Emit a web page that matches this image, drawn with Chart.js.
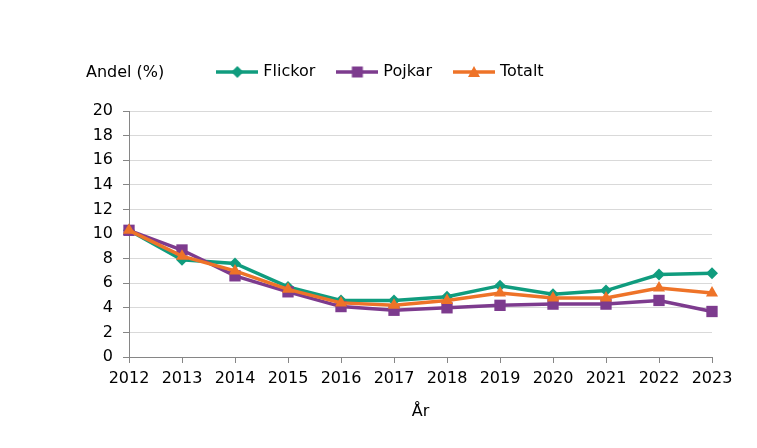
<!DOCTYPE html>
<html><head><meta charset="utf-8">
<script src="https://cdn.jsdelivr.net/npm/chart.js@4/dist/chart.umd.min.js"></script>
<style>html,body{margin:0;padding:0;background:#fff}#wrap{width:757px;height:448px}</style>
</head><body><div id="wrap"><canvas id="c" width="757" height="448"></canvas></div>
<script>
const years = ['2012','2013','2014','2015','2016','2017','2018','2019','2020','2021','2022','2023'];
const flickor = [10.3, 7.9, 7.6, 5.7, 4.6, 4.6, 4.9, 5.8, 5.1, 5.4, 6.7, 6.8];
const pojkar  = [10.3, 8.7, 6.6, 5.3, 4.1, 3.8, 4.0, 4.2, 4.3, 4.3, 4.6, 3.7];
const totalt  = [10.3, 8.2, 7.0, 5.5, 4.4, 4.2, 4.6, 5.2, 4.8, 4.8, 5.6, 5.2];
const seriesNames = ['Flickor', 'Pojkar', 'Totalt'];
const yAxisLabel = 'Andel (%)';
const xAxisLabel = 'År';

const COLORS = ['#109c7e', '#7d3b8e', '#ee7328'];
const STYLES = ['rectRot', 'rect', 'triangle'];
const RADII = [6, 8, 7];
const FONT = "'DejaVu Sans', Verdana, sans-serif";

function legendImage(color, style) {
  const cv = document.createElement('canvas');
  cv.width = 42; cv.height = 16;
  const ctx = cv.getContext('2d');
  ctx.strokeStyle = color; ctx.fillStyle = color; ctx.lineWidth = 3.5;
  ctx.beginPath(); ctx.moveTo(0, 8); ctx.lineTo(42, 8); ctx.stroke();
  ctx.beginPath();
  if (style === 'rectRot') { ctx.moveTo(21, 2); ctx.lineTo(27, 8); ctx.lineTo(21, 14); ctx.lineTo(15, 8); }
  else if (style === 'rect') { ctx.rect(15.5, 2.5, 11, 11); }
  else { ctx.moveTo(21, 2); ctx.lineTo(27, 13); ctx.lineTo(15, 13); }
  ctx.closePath(); ctx.fill();
  return cv;
}
const legendImgs = COLORS.map((c, i) => legendImage(c, STYLES[i]));

const dataArrays = [flickor, pojkar, totalt];
const datasets = dataArrays.map((d, i) => ({
  label: seriesNames[i],
  data: d,
  borderColor: COLORS[i],
  backgroundColor: COLORS[i],
  borderWidth: 3.5,
  pointStyle: STYLES[i],
  pointRadius: RADII[i],
  pointHoverRadius: RADII[i],
  pointBorderWidth: 0,
  tension: 0,
  order: 3 - i
}));

const legendSpacer = {
  id: 'legendSpacer',
  beforeInit(chart) {
    const orig = chart.legend.fit;
    chart.legend.fit = function () { orig.call(this); this.height = 71; };
  }
};
const yTitle = {
  id: 'yTitle',
  afterDraw(chart) {
    const ctx = chart.ctx;
    ctx.save();
    ctx.font = '16px ' + FONT;
    ctx.fillStyle = '#000';
    ctx.textAlign = 'left';
    ctx.textBaseline = 'middle';
    ctx.fillText(yAxisLabel, 86, 73);
    ctx.restore();
  }
};

new Chart(document.getElementById('c'), {
  type: 'line',
  data: { labels: years, datasets },
  options: {
    responsive: false,
    devicePixelRatio: 1,
    animation: false,
    layout: { padding: { top: 40, right: 45, left: 51, bottom: 0 } },
    plugins: {
      tooltip: { enabled: false },
      legend: {
        position: 'top',
        labels: {
          usePointStyle: true,
          pointStyleWidth: 36,
          padding: 24,
          color: '#000',
          font: { family: FONT, size: 16 },
          generateLabels(chart) {
            return chart.data.datasets.map((ds, i) => ({
              text: ds.label,
              pointStyle: legendImgs[i],
              fillStyle: ds.borderColor,
              strokeStyle: ds.borderColor,
              lineWidth: 0,
              hidden: !chart.isDatasetVisible(i),
              datasetIndex: i,
              fontColor: '#000'
            }));
          }
        }
      }
    },
    scales: {
      x: {
        offset: false,
        afterFit(s) { s.height = 91; },
        grid: { display: true, drawOnChartArea: false, color: '#868686', tickLength: 6 },
        border: { color: '#868686', width: 1 },
        ticks: { color: '#000', font: { family: FONT, size: 16 }, padding: 6, maxRotation: 0, autoSkip: false },
        title: { display: true, text: xAxisLabel, color: '#000', font: { family: FONT, size: 16 }, padding: { top: 0, bottom: 27 } }
      },
      y: {
        min: 0, max: 20,
        afterFit(s) { s.width = 78; },
        grid: { color: '#d9d9d9', tickColor: '#868686', tickLength: 6 },
        border: { color: '#868686', width: 1 },
        ticks: { stepSize: 2, color: '#000', font: { family: FONT, size: 16 }, padding: 10 }
      }
    }
  },
  plugins: [legendSpacer, yTitle]
});
</script>
</body></html>
